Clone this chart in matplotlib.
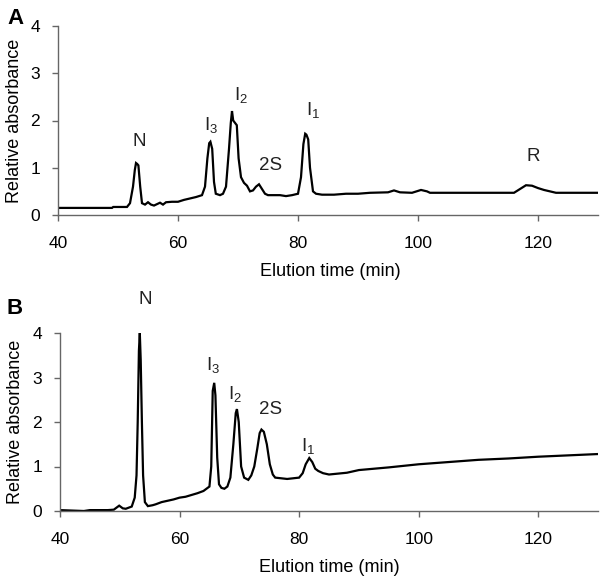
import matplotlib
matplotlib.use("Agg")
import matplotlib.pyplot as plt

plt.rcParams['font.family'] = ['Liberation Sans', 'DejaVu Sans']
plt.rcParams['mathtext.default'] = 'regular'

# Panel A trace (elution time, relative absorbance)
time_a = [40, 49, 49.2, 51.5, 52, 52.5, 52.8, 53.0, 53.2, 53.4, 53.7, 54, 54.5, 55, 55.5, 56, 57, 57.5, 58,
          59, 60, 61, 62, 63, 64, 64.5, 64.9, 65.2, 65.4, 65.7, 66, 66.3, 67, 67.5, 68, 68.5, 68.8, 69.0,
          69.2, 69.5, 69.8, 70.1, 70.5, 71, 71.5, 72, 72.5, 73, 73.5, 74, 74.5, 75, 77, 78, 79, 80, 80.5,
          80.9, 81.2, 81.4, 81.7, 82, 82.5, 83, 84, 86, 88, 90, 92, 95, 96, 97, 99, 100.5, 101.5, 102,
          116, 117, 118, 119, 120, 121, 122, 123, 130]
abs_a = [0.15, 0.15, 0.17, 0.17, 0.25, 0.6, 0.95, 1.1, 1.08, 1.05, 0.6, 0.25, 0.22, 0.27, 0.22, 0.2, 0.26, 0.22, 0.27,
         0.28, 0.28, 0.32, 0.35, 0.38, 0.42, 0.6, 1.2, 1.52, 1.55, 1.4, 0.7, 0.45, 0.42, 0.45, 0.6, 1.4, 1.95, 2.2,
         2.0, 1.95, 1.9, 1.2, 0.8, 0.68, 0.62, 0.5, 0.52, 0.6, 0.65, 0.55, 0.45, 0.42, 0.42, 0.4, 0.42, 0.45, 0.8,
         1.5, 1.72, 1.7, 1.6, 1.0, 0.5, 0.45, 0.43, 0.43, 0.45, 0.45, 0.47, 0.48, 0.52, 0.48, 0.47, 0.53, 0.5, 0.47,
         0.47, 0.55, 0.63, 0.62, 0.57, 0.53, 0.5, 0.47, 0.47]

# Panel B trace
time_b = [40, 44, 45, 48, 49, 49.9, 50.5, 51, 52, 52.5, 52.8, 53.0, 53.2, 53.35, 53.5, 53.7, 53.9, 54.2, 54.7,
          55.5, 56, 57, 58, 59, 60, 61, 62, 63, 64, 65, 65.3, 65.55, 65.8, 66.0, 66.3, 66.6, 67, 67.5, 68, 68.5,
          69.0, 69.4, 69.6, 69.9, 70.3, 70.8, 71.5, 72, 72.5, 73, 73.4, 73.7, 74.1, 74.6, 75.1, 75.6, 76, 78,
          80, 80.6, 81.1, 81.7, 82.2, 82.7, 83.2, 84, 85, 88, 90, 95, 100, 105, 110, 115, 120, 125, 130]
abs_b = [0.02, 0.0, 0.02, 0.02, 0.03, 0.12, 0.06, 0.05, 0.1, 0.3, 0.8, 2.0, 3.6, 4.0, 3.4, 2.0, 0.8, 0.2, 0.11,
         0.13, 0.15, 0.2, 0.23, 0.26, 0.3, 0.32, 0.36, 0.4, 0.45, 0.55, 1.0, 2.7, 2.88, 2.6, 1.2, 0.6, 0.52, 0.5,
         0.55, 0.75, 1.5, 2.2, 2.29, 2.0, 1.0, 0.75, 0.7, 0.8, 1.0, 1.4, 1.75, 1.83, 1.78, 1.5, 1.05, 0.82, 0.75,
         0.72, 0.75, 0.85, 1.05, 1.19, 1.1, 0.95, 0.9, 0.85, 0.82, 0.86, 0.92, 0.98, 1.05, 1.1, 1.15, 1.18, 1.22,
         1.25, 1.28]

labels_a = ['N', 'I$_3$', 'I$_2$', '2S', 'I$_1$', 'R']
label_x_a = [53.5, 65.5, 70.5, 75.5, 82.5, 119.2]
label_y_a = [1.55, 1.9, 2.55, 1.04, 2.22, 1.23]

labels_b = ['N', 'I$_3$', 'I$_2$', '2S', 'I$_1$']
label_x_b = [54.2, 65.6, 69.2, 75.3, 81.5]
label_y_b = [4.75, 3.28, 2.62, 2.27, 1.45]

xticks = [40, 60, 80, 100, 120]
yticks = [0, 1, 2, 3, 4]

W, H = 604, 581
fig = plt.figure(figsize=(W / 100, H / 100), dpi=100)

def px_axes(left, right, top, bottom):
    return fig.add_axes([left / W, 1 - bottom / H, (right - left) / W, (bottom - top) / H])

ax_a = px_axes(58, 598, 26, 215)
ax_b = px_axes(60, 598, 333, 511)

spine_col = '#666666'
for ax, t, a, labs, lx, ly, left, top, bottom, xlab_y in [
        (ax_a, time_a, abs_a, labels_a, label_x_a, label_y_a, 58, 26, 215, 272),
        (ax_b, time_b, abs_b, labels_b, label_x_b, label_y_b, 60, 333, 511, 568)]:
    ax.plot(t, a, color='black', lw=1.6, solid_joinstyle='miter')
    ax.set_xlim(40, 130)
    ax.set_ylim(0, 4)
    ax.set_xticks(xticks)
    ax.set_yticks(yticks)
    for s in ['top', 'right']:
        ax.spines[s].set_visible(False)
    for s in ['left', 'bottom']:
        ax.spines[s].set_color(spine_col)
        ax.spines[s].set_linewidth(1.0)
    ax.tick_params(axis='x', direction='out', length=4, width=1, color=spine_col, pad=11, labelsize=12.5)
    ax.tick_params(axis='y', direction='out', length=4, width=1, color=spine_col, pad=9, labelsize=12.5)
    ax.set_xlabel('Elution time (min)', fontsize=13)
    ax.set_ylabel('Relative absorbance', fontsize=13)
    h = bottom - top
    ax.yaxis.set_label_coords((15 - left) / 540, 0.5)
    ax.xaxis.set_label_coords((330 - left) / 540, -(xlab_y - bottom) / h)
    ax.xaxis.label.set_va('center')
    ax.yaxis.label.set_va('center')
    for s, x, y in zip(labs, lx, ly):
        ax.text(x, y, s, fontsize=13.5, ha='center', va='center', color='#222222', clip_on=False)

fig.text(7 / W, 1 - 18 / H, 'A', fontsize=16, fontweight='bold', ha='left', va='center')
fig.text(7 / W, 1 - 308 / H, 'B', fontsize=16, fontweight='bold', ha='left', va='center')

fig.savefig('out.png', dpi=100)
